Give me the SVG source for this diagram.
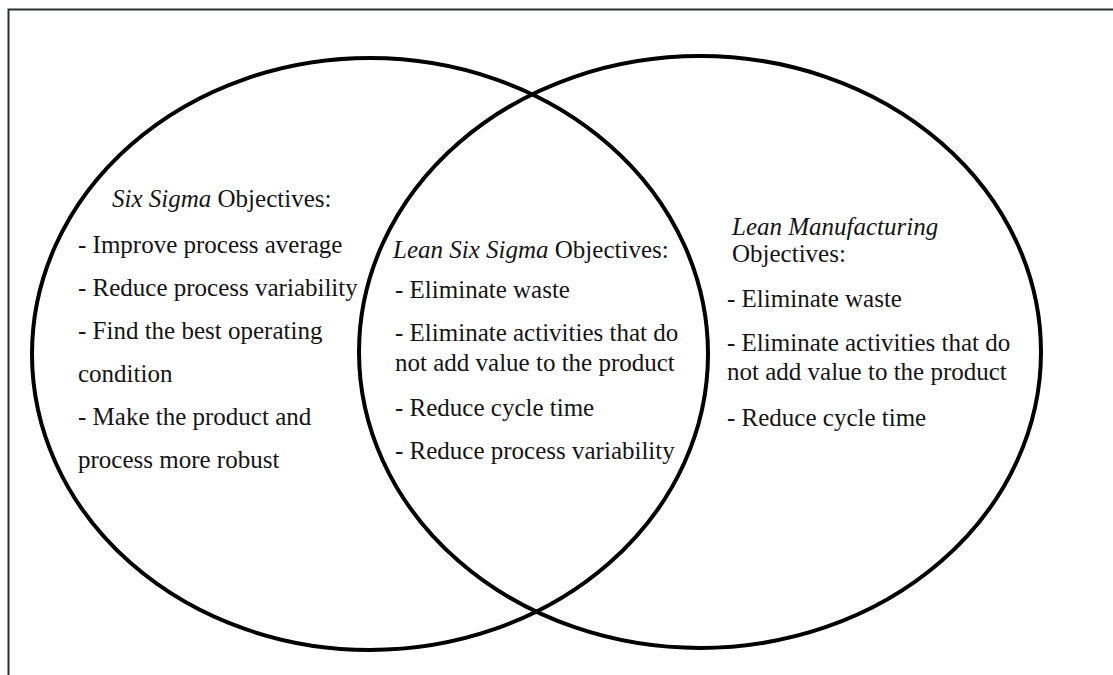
<svg xmlns="http://www.w3.org/2000/svg" width="1113" height="675" viewBox="0 0 1113 675">
<style>
.frame{fill:none;stroke:#2b302f;stroke-width:2}
.set{fill:none;stroke:#000;stroke-width:4}
.lbl{font-family:"Liberation Serif","Tinos","Times New Roman","DejaVu Serif",serif;font-size:25px;fill:#141414}
.it{font-style:italic}
</style>
<rect width="1113" height="675" fill="#fff"/>
<path class="frame" d="M8.5 675 V9.5 H1113"/>
<g id="connectors"/>
<g id="six-sigma" class="lbl" font-family="Liberation Serif, Times New Roman, serif">
<ellipse class="set" cx="370" cy="354" rx="338" ry="296"/>
<text x="112" y="207"><tspan class="it">Six Sigma</tspan> Objectives:</text>
<text x="78" y="253">- Improve process average</text>
<text x="78" y="296">- Reduce process variability</text>
<text x="78" y="339">- Find the best operating</text>
<text x="78" y="382">condition</text>
<text x="78" y="425">- Make the product and</text>
<text x="78" y="468">process more robust</text>
</g>
<g id="lean-manufacturing" class="lbl" font-family="Liberation Serif, Times New Roman, serif">
<ellipse class="set" cx="700" cy="352" rx="341" ry="296"/>
<text x="732" y="235" class="it">Lean Manufacturing</text>
<text x="732" y="262">Objectives:</text>
<text x="727" y="307">- Eliminate waste</text>
<text x="727" y="351">- Eliminate activities that do</text>
<text x="727" y="380">not add value to the product</text>
<text x="727" y="426">- Reduce cycle time</text>
</g>
<g id="lean-six-sigma" class="lbl" font-family="Liberation Serif, Times New Roman, serif">
<text x="393" y="258"><tspan class="it">Lean Six Sigma</tspan> Objectives:</text>
<text x="395" y="298">- Eliminate waste</text>
<text x="395" y="341">- Eliminate activities that do</text>
<text x="395" y="371">not add value to the product</text>
<text x="395" y="416">- Reduce cycle time</text>
<text x="395" y="459">- Reduce process variability</text>
</g>
</svg>
